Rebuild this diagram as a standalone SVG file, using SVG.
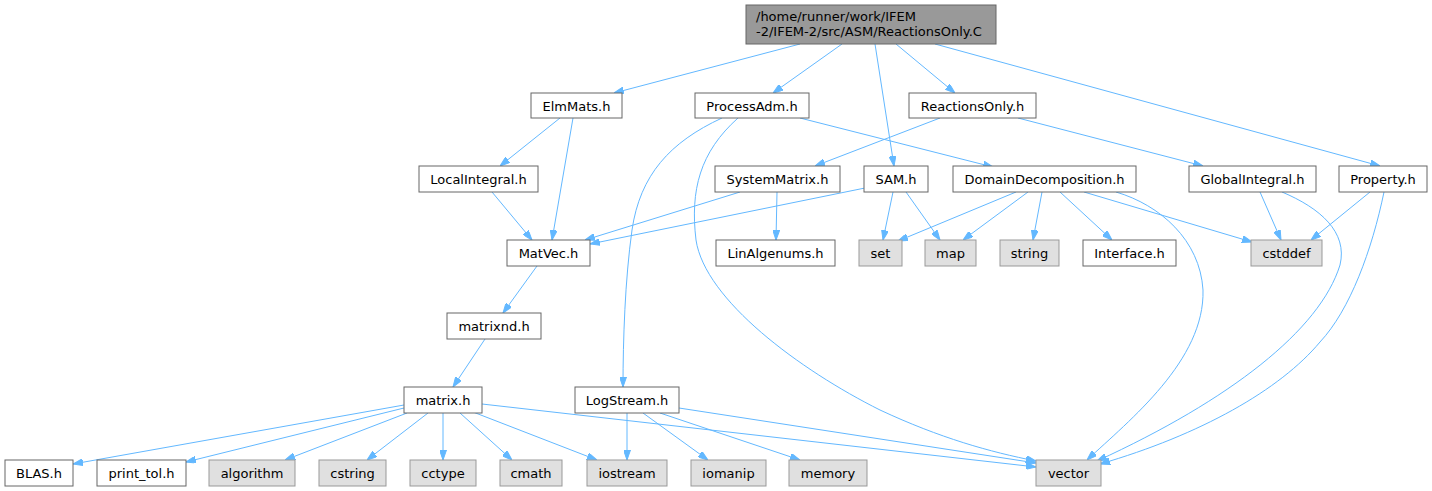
<svg xmlns="http://www.w3.org/2000/svg" width="1432" height="491" viewBox="0 0 1432 491">
<style>
text{font-family:"DejaVu Sans","Liberation Sans",sans-serif;font-size:13px;fill:#000;text-anchor:middle}
.n rect{fill:#fff;stroke:#666;stroke-width:1}
.g rect{fill:#e0e0e0;stroke:#999;stroke-width:1}
.r rect{fill:#999;stroke:#666;stroke-width:1}
.r text{text-anchor:start}
#edges path{fill:none;stroke:#63b8ff;stroke-width:1;marker-end:url(#ah)}
</style>
<defs>
<marker id="ah" viewBox="0 0 10 7" refX="10" refY="3.5" markerWidth="10" markerHeight="7" markerUnits="userSpaceOnUse" orient="auto">
<path d="M0,0 L10,3.5 L0,7 z" fill="#63b8ff" stroke="#63b8ff" stroke-width="1"/>
</marker>
</defs>
<rect width="1432" height="491" fill="#fff"/>
<g id="edges">
<path d="M800,44 L614,93"/>
<path d="M842,44 L773,93"/>
<path d="M875,44 L894,166"/>
<path d="M896,44 L955,93"/>
<path d="M935,44 L1380,166"/>
<path d="M560,118 L500,166"/>
<path d="M573,118 L552,240"/>
<path d="M722,118 C670,142 640,175 632,230 C625,280 623,340 623,387"/>
<path d="M738,118 C700,152 690,190 696,240 C705,300 800,370 880,410 C940,438 990,452 1036,461"/>
<path d="M800,118 L993,167"/>
<path d="M940,118 L815,166"/>
<path d="M1018,118 L1203,166"/>
<path d="M1370,192 L1311,240"/>
<path d="M1384,192 C1372,250 1350,310 1320,342 C1280,390 1200,435 1100,464"/>
<path d="M1260,192 L1281,240"/>
<path d="M1282,192 C1320,208 1348,232 1340,265 C1320,330 1230,400 1097,461"/>
<path d="M1016,192 L898,241"/>
<path d="M1028,192 L963,240"/>
<path d="M1042,192 L1033,240"/>
<path d="M1060,192 L1112,240"/>
<path d="M1084,192 L1252,242"/>
<path d="M1116,192 C1160,205 1200,240 1203,290 C1205,360 1130,420 1087,460"/>
<path d="M865,188 L590,244"/>
<path d="M893,192 L883,240"/>
<path d="M906,192 L940,240"/>
<path d="M740,192 L585,240"/>
<path d="M777,192 L776,240"/>
<path d="M492,192 L532,240"/>
<path d="M537,266 L503,313"/>
<path d="M485,339 L453,387"/>
<path d="M404,405 L73,464"/>
<path d="M404,408 L186,462"/>
<path d="M407,413 L285,460"/>
<path d="M428,413 L367,460"/>
<path d="M443,413 L443,460"/>
<path d="M460,413 L512,460"/>
<path d="M473,412 L597,460"/>
<path d="M482,404 L1036,467"/>
<path d="M627,413 L627,460"/>
<path d="M643,413 L708,460"/>
<path d="M660,413 L800,460"/>
<path d="M679,408 L1036,463"/>
</g>
<g id="root" class="r"><rect x="746" y="5" width="250" height="39"/><text x="756" y="21">/home/runner/work/IFEM</text><text x="756" y="36">-2/IFEM-2/src/ASM/ReactionsOnly.C</text></g>
<g id="ElmMats" class="n"><rect x="531" y="93" width="91" height="25"/><text x="576.5" y="110.5">ElmMats.h</text></g>
<g id="ProcessAdm" class="n"><rect x="695" y="93" width="114" height="25"/><text x="752" y="110.5">ProcessAdm.h</text></g>
<g id="ReactionsOnlyH" class="n"><rect x="909" y="93" width="127" height="25"/><text x="972.5" y="110.5">ReactionsOnly.h</text></g>
<g id="LocalIntegral" class="n"><rect x="419" y="166" width="119" height="26"/><text x="478.5" y="183.5">LocalIntegral.h</text></g>
<g id="SystemMatrix" class="n"><rect x="715" y="166" width="125" height="26"/><text x="777.5" y="183.5">SystemMatrix.h</text></g>
<g id="SAM" class="n"><rect x="864" y="166" width="64" height="26"/><text x="896" y="183.5">SAM.h</text></g>
<g id="DomainDecomposition" class="n"><rect x="953" y="166" width="183" height="26"/><text x="1044.5" y="183.5">DomainDecomposition.h</text></g>
<g id="GlobalIntegral" class="n"><rect x="1189" y="166" width="127" height="26"/><text x="1252.5" y="183.5">GlobalIntegral.h</text></g>
<g id="Property" class="n"><rect x="1339" y="166" width="88" height="26"/><text x="1383" y="183.5">Property.h</text></g>
<g id="MatVec" class="n"><rect x="507" y="240" width="83" height="26"/><text x="548.5" y="257.5">MatVec.h</text></g>
<g id="LinAlgenums" class="n"><rect x="716" y="240" width="119" height="26"/><text x="775.5" y="257.5">LinAlgenums.h</text></g>
<g id="set" class="g"><rect x="859" y="240" width="43" height="26"/><text x="880.5" y="257.5">set</text></g>
<g id="map" class="g"><rect x="925" y="240" width="51" height="26"/><text x="950.5" y="257.5">map</text></g>
<g id="string" class="g"><rect x="1000" y="240" width="59" height="26"/><text x="1029.5" y="257.5">string</text></g>
<g id="Interface" class="n"><rect x="1083" y="240" width="93" height="26"/><text x="1129.5" y="257.5">Interface.h</text></g>
<g id="cstddef" class="g"><rect x="1251" y="240" width="71" height="26"/><text x="1286.5" y="257.5">cstddef</text></g>
<g id="matrixnd" class="n"><rect x="447" y="313" width="94" height="26"/><text x="494" y="330.5">matrixnd.h</text></g>
<g id="matrix" class="n"><rect x="404" y="387" width="78" height="26"/><text x="443" y="404.5">matrix.h</text></g>
<g id="LogStream" class="n"><rect x="575" y="387" width="104" height="26"/><text x="627" y="404.5">LogStream.h</text></g>
<g id="BLAS" class="n"><rect x="5" y="460" width="68" height="26"/><text x="39" y="477.5">BLAS.h</text></g>
<g id="print_tol" class="n"><rect x="97" y="460" width="89" height="26"/><text x="141.5" y="477.5">print_tol.h</text></g>
<g id="algorithm" class="g"><rect x="209" y="460" width="86" height="26"/><text x="252" y="477.5">algorithm</text></g>
<g id="cstring" class="g"><rect x="319" y="460" width="67" height="26"/><text x="352.5" y="477.5">cstring</text></g>
<g id="cctype" class="g"><rect x="410" y="460" width="66" height="26"/><text x="443" y="477.5">cctype</text></g>
<g id="cmath" class="g"><rect x="500" y="460" width="62" height="26"/><text x="531" y="477.5">cmath</text></g>
<g id="iostream" class="g"><rect x="587" y="460" width="80" height="26"/><text x="627" y="477.5">iostream</text></g>
<g id="iomanip" class="g"><rect x="691" y="460" width="75" height="26"/><text x="728.5" y="477.5">iomanip</text></g>
<g id="memory" class="g"><rect x="789" y="460" width="78" height="26"/><text x="828" y="477.5">memory</text></g>
<g id="vector" class="g"><rect x="1036" y="460" width="65" height="26"/><text x="1068.5" y="477.5">vector</text></g>
</svg>
